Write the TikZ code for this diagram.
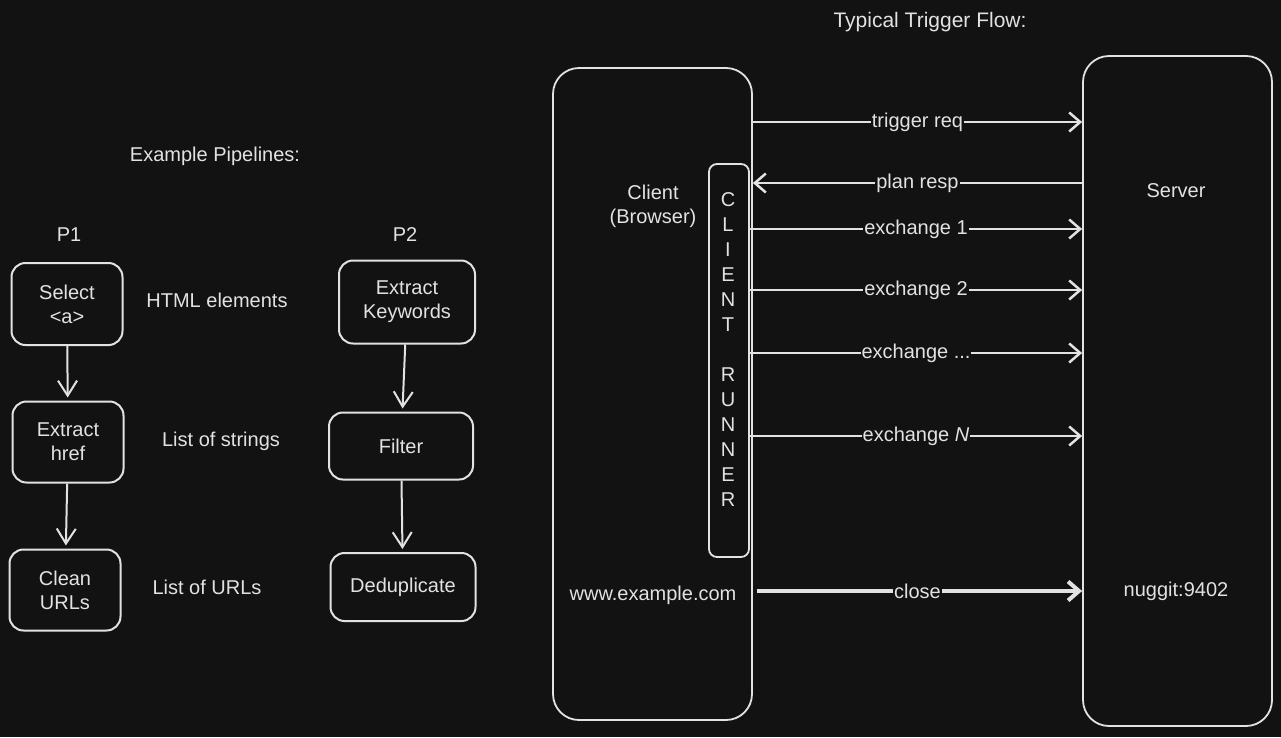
\documentclass[tikz,border=0pt]{standalone}
\usepackage{fontspec}
\setmainfont{Liberation Sans}
\usetikzlibrary{arrows.meta}
\definecolor{bg}{HTML}{121212}
\definecolor{ink}{HTML}{E2E2E2}
\tikzstyle{stage}=[rectangle, rounded corners=14pt, draw=ink, line width=2pt, align=center, text=ink, font=\fontsize{20}{24}\selectfont]
\tikzstyle{note}=[text=ink, align=center, font=\fontsize{20}{24}\selectfont]
\tikzstyle{lane}=[rectangle, draw=ink, line width=1.8pt, rounded corners=26pt]
\tikzstyle{flow}=[draw=ink, line width=2pt, shorten >=3pt, -{Straight Barb[length=15pt,width=19pt]}]
\tikzstyle{msg}=[draw=ink, line width=2.5pt, -{Straight Barb[length=11pt,width=19pt]}]
\tikzstyle{lbl}=[fill=bg, text=ink, inner sep=1pt, font=\fontsize{20}{24}\selectfont]
\begin{document}
\begin{tikzpicture}[x=1pt, y=-1pt]
	\fill[bg] (0,0) rectangle (1281,737);
	\useasboundingbox (0,0) rectangle (1281,737);

	%The pipelines
	\draw (215,156) node[note] (pipes) {Example Pipelines:};
	\draw (69,235) node[note] (p1) {P1};
	\draw (405,235) node[note] (p2) {P2};

	\draw (67,304) node[stage, minimum width=111pt, minimum height=82pt] (sel) {Select\\<a>};
	\draw (68,442) node[stage, minimum width=111pt, minimum height=81pt] (href) {Extract\\href};
	\draw (65,590) node[stage, minimum width=111pt, minimum height=81pt] (clean) {Clean\\URLs};

	\draw (217,300) node[note] (t-sel) {HTML elements};
	\draw (221,441) node[note] (t-href) {List of strings};
	\draw (207,587) node[note] (t-clean) {List of URLs};

	\draw (407,302) node[stage, minimum width=136pt, minimum height=83pt] (kw) {Extract\\Keywords};
	\draw (401,446) node[stage, minimum width=144pt, minimum height=67pt] (filter) {Filter};
	\draw (403,587) node[stage, minimum width=145pt, minimum height=68pt] (dedup) {Deduplicate};

	\draw[flow] (sel) -- (href);
	\draw[flow] (href) -- (clean);
	\draw[flow] (kw) -- (filter);
	\draw[flow] (filter) -- (dedup);

	%The trigger flow
	\draw (930,22) node[note, font=\fontsize{21}{24}\selectfont] (flowtitle) {Typical Trigger Flow:};

	\draw (652.5,394) node[lane, minimum width=199pt, minimum height=652pt] (client) {};
	\draw (1177.5,391) node[lane, minimum width=189pt, minimum height=670pt] (server) {};
	\draw (729,360.5) node[lane, rounded corners=8pt, minimum width=40pt, minimum height=393pt] (runner) {};

	\draw (653,206) node[note] (t-client) {Client\\(Browser)};
	\draw (653,595) node[note] (t-host) {www.example.com};
	\draw (1176,191) node[note] (t-server) {Server};
	\draw (1176,591) node[note] (t-port) {nuggit:9402};
	\draw (728,350) node[note, font=\fontsize{20}{25}\selectfont] (t-runner)
		{C\\L\\I\\E\\N\\T\\[25pt]R\\U\\N\\N\\E\\R};

	%The messages
	\coordinate (y-req) at (0,122);
	\coordinate (y-plan) at (0,183);
	\coordinate (y-ex1) at (0,229);
	\coordinate (y-ex2) at (0,290);
	\coordinate (y-exn) at (0,353);
	\coordinate (y-exN) at (0,436);
	\coordinate (y-close) at (0,591);

	\draw[msg] (client.east |- y-req) -- (server.west |- y-req) node[lbl, midway] {trigger req};
	\draw[msg] (server.west |- y-plan) -- (client.east |- y-plan) node[lbl, midway] {plan resp};
	\draw[msg] (runner.east |- y-ex1) -- (server.west |- y-ex1) node[lbl, midway] {exchange 1};
	\draw[msg] (runner.east |- y-ex2) -- (server.west |- y-ex2) node[lbl, midway] {exchange 2};
	\draw[msg] (runner.east |- y-exn) -- (server.west |- y-exn) node[lbl, midway] {exchange ...};
	\draw[msg] (runner.east |- y-exN) -- (server.west |- y-exN) node[lbl, midway] {exchange \textit{N}};
	\draw[msg, line width=4pt, shorten <=4pt] (client.east |- y-close) -- (server.west |- y-close) node[lbl, midway] {close};
\end{tikzpicture}
\end{document}
